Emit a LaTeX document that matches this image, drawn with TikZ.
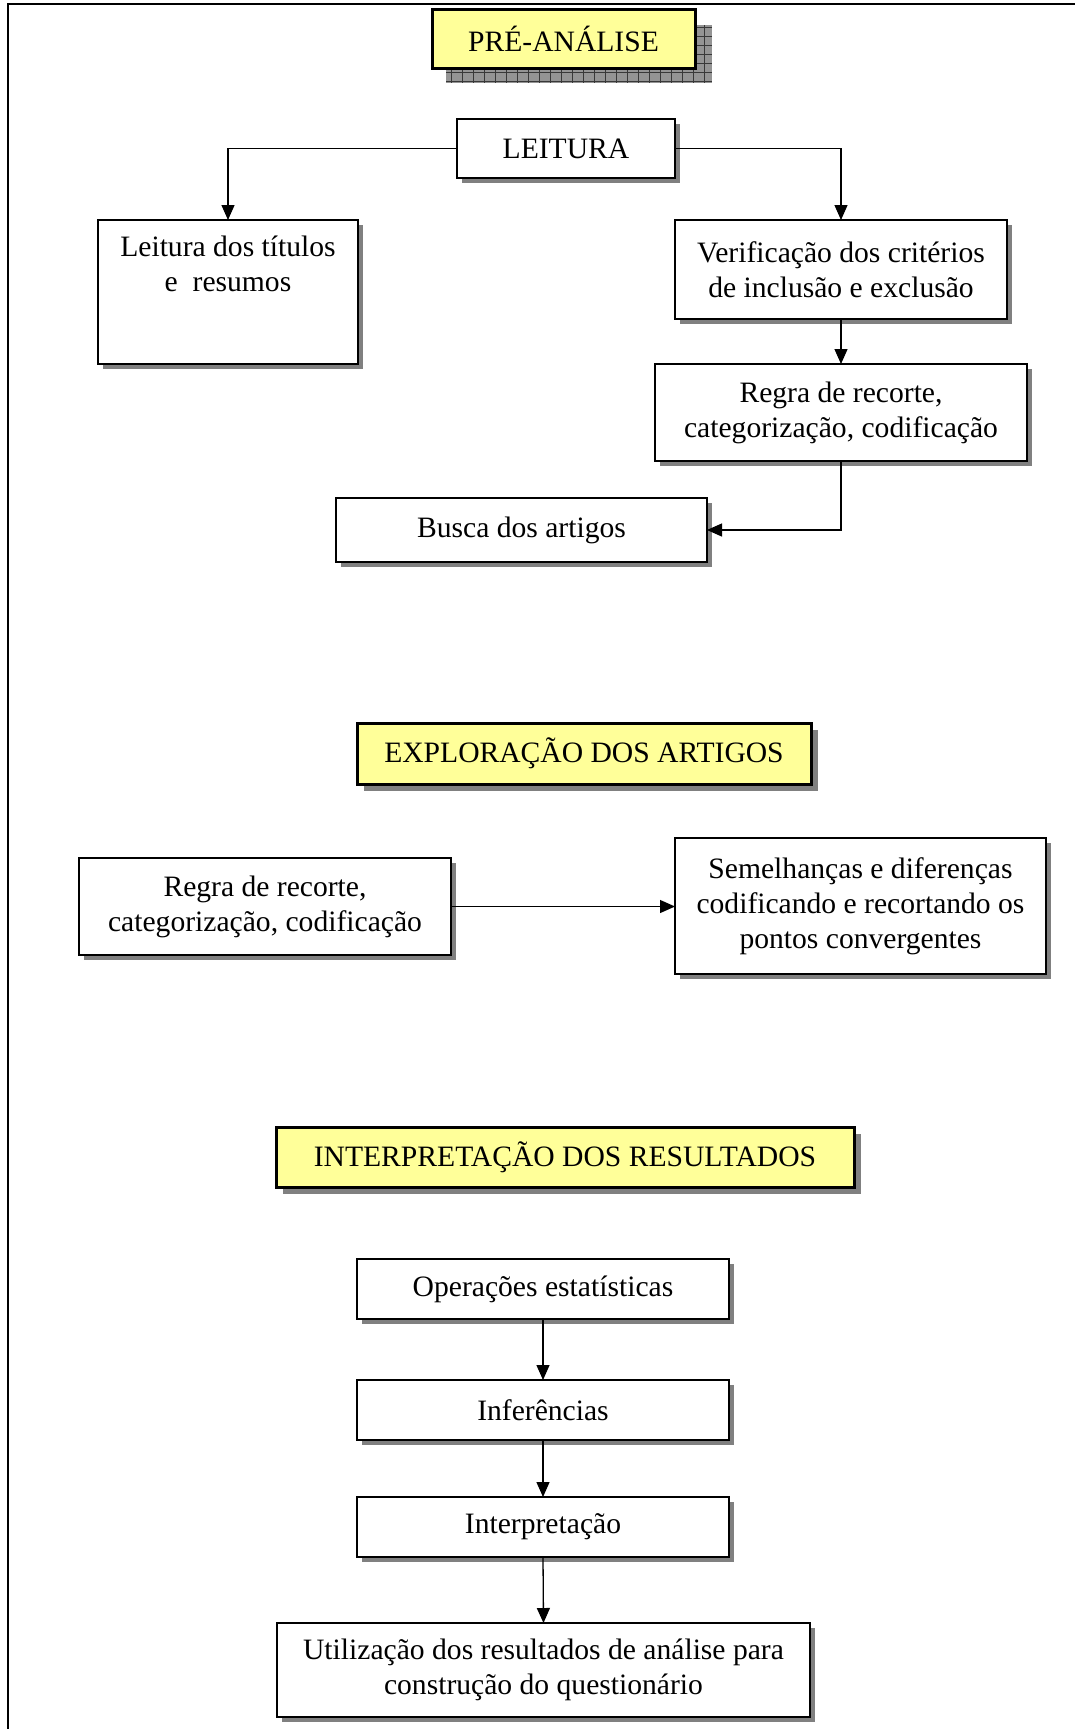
\documentclass[tikz,border=0pt]{standalone}
\usepackage{fontspec}
\setmainfont{Liberation Serif}
\usetikzlibrary{arrows.meta,shadows,backgrounds,calc}
\pgfdeclarelayer{bottom}
\pgfsetlayers{bottom,background,main}
\definecolor{headyellow}{HTML}{FFFF99}
\definecolor{shadowgray}{HTML}{808080}
\begin{document}
\begin{tikzpicture}[x=1pt,y=-1pt,
  every node/.style={font=\fontsize{29.6}{35}\selectfont, inner sep=0pt, outer sep=0pt},
  plainbox/.style={draw=black, line width=1.6pt, fill=white, align=center,
    drop shadow={shadow xshift=5pt, shadow yshift=-5pt, fill=shadowgray, opacity=1}},
  headbox/.style={draw=black, line width=3pt, fill=headyellow, align=center},
  headshadow/.style={drop shadow={shadow xshift=7pt, shadow yshift=-7pt, fill=shadowgray, opacity=1}},
  conn/.style={line width=1.3pt, -{Triangle[width=13pt,length=15pt]}},
  frameline/.style={line width=2pt}
]
\useasboundingbox (0,0) rectangle (1075,1729);
\begin{pgfonlayer}{bottom}
\fill[white] (0,0) rectangle (1075,1729);
\end{pgfonlayer}

% frame
\coordinate (ftl) at (8,4);
\coordinate (ftr) at (1075,4);
\coordinate (fbl) at (8,1729);
\draw[frameline] (ftr) -- (ftl) -- (fbl);

% PRE-ANALISE
\node[headbox, minimum width=263pt, minimum height=59pt] (pre) at (563.5,38.5) {PRÉ-ANÁLISE};
\begin{scope}[on background layer]
  \coordinate (psa) at ($(pre.south west)+(13,15)$);
  \coordinate (psb) at ($(pre.north east)+(17,15)$);
  \fill[black!42] (psa) rectangle (psb);
  \begin{scope}
    \clip (psa) rectangle (psb);
    \draw[black!78, line width=0.9pt, xstep=11pt, ystep=9pt] (psa) grid (psb);
  \end{scope}
  \draw[white, line width=1pt] (psa) rectangle (psb);
\end{scope}

% LEITURA
\node[plainbox, minimum width=218pt, minimum height=59pt] (leit) at (566,148.5) {LEITURA};
\node[plainbox, minimum width=260pt, minimum height=144pt] (lt) at (228,292) {};
\node[anchor=north, align=center] (ltt) at ([yshift=-16pt]lt.north) {Leitura dos títulos\\e\ \ resumos};
\node[plainbox, minimum width=332pt, minimum height=99pt] (ver) at (841,269.5) {Verificação dos critérios\\de inclusão e exclusão};
\node[plainbox, minimum width=372pt, minimum height=97pt] (reg1) at (841,412.5) {Regra de recorte,\\categorização, codificação};
\node[plainbox, minimum width=371pt, minimum height=64pt] (busca) at (521.5,530) {Busca dos artigos};

\draw[conn] (leit.west) -| (lt.north);
\draw[conn] (leit.east) -| (ver.north);
\draw[conn] (ver.south) -- (reg1.north);
\draw[conn] (reg1.south) |- (busca.east);

% EXPLORACAO
\node[headbox, headshadow, minimum width=454pt, minimum height=61pt] (expl) at (584,753.5) {EXPLORAÇÃO DOS ARTIGOS};
\node[plainbox, minimum width=372pt, minimum height=97pt] (reg2) at (265,906.5) {Regra de recorte,\\categorização, codificação};
\node[plainbox, minimum width=371pt, minimum height=136pt] (sem) at (860.5,906) {Semelhanças e diferenças\\codificando e recortando os\\pontos convergentes};
\draw[conn] (reg2.east) -- (reg2.east -| sem.west);

% INTERPRETACAO
\node[headbox, headshadow, minimum width=578pt, minimum height=60pt] (interp) at (565,1157) {INTERPRETAÇÃO DOS RESULTADOS};
\node[plainbox, minimum width=372pt, minimum height=60pt] (op) at (543,1289) {Operações estatísticas};
\node[plainbox, minimum width=372pt, minimum height=60pt] (inf) at (543,1410) {Inferências};
\node[plainbox, minimum width=372pt, minimum height=60pt] (int) at (543,1527) {Interpretação};
\node[plainbox, minimum width=533pt, minimum height=94pt] (uti) at (543.5,1670) {Utilização dos resultados de análise para\\construção do questionário};
\draw[conn] (op.south) -- (inf.north);
\draw[conn] (inf.south) -- (int.north);
\draw[conn] (int.south) -- (uti.north);
\end{tikzpicture}
\end{document}
